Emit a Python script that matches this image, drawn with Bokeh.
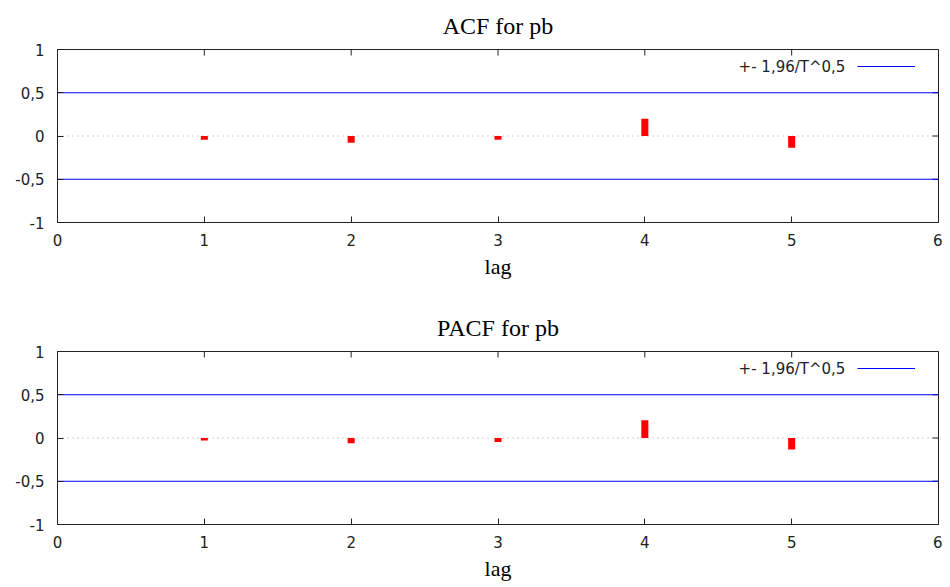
import math
from bokeh.plotting import figure
from bokeh.layouts import column
from bokeh.models import (FixedTicker, Span, Label, Legend, LegendItem, Range1d)
from bokeh.embed import file_html
from bokeh.resources import INLINE

# ---- data ----
lags = [1, 2, 3, 4, 5]
acf_values = [-0.042, -0.077, -0.042, 0.200, -0.135]
pacf_values = [-0.030, -0.062, -0.046, 0.204, -0.132]
band = 0.5
x_ticks = [0, 1, 2, 3, 4, 5, 6]
y_ticks = [-1, -0.5, 0, 0.5, 1]
y_tick_labels = ["-1", "-0,5", "0", "0,5", "1"]
legend_label = "+- 1,96/T^0,5"
titles = ["ACF for pb", "PACF for pb"]
x_label = "lag"

SANS = "DejaVu Sans"
SERIF = "Liberation Serif"
INK = "#222222"


def make_panel(title, values, top_border, bottom_border):
    p = figure(frame_width=881, frame_height=173,
               x_range=Range1d(x_ticks[0], x_ticks[-1]), y_range=Range1d(y_ticks[0], y_ticks[-1]),
               output_backend="svg", toolbar_location=None,
               min_border_left=57, min_border_right=4,
               min_border_top=top_border, min_border_bottom=bottom_border,
               title=title)
    p.title.align = "center"
    p.title.vertical_align = "middle"
    p.title.text_font = SERIF
    p.title.text_font_size = "24px"
    p.title.text_font_style = "normal"
    p.title.text_color = "black"
    p.title.standoff = 20

    p.xgrid.visible = False
    p.ygrid.visible = False
    p.outline_line_color = INK
    p.outline_line_width = 1
    p.background_fill_color = "white"
    p.border_fill_color = "white"

    # bottom axis
    xa = p.xaxis[0]
    xa.ticker = FixedTicker(ticks=x_ticks)
    xa.major_tick_in = 6
    xa.major_tick_out = 0
    xa.minor_tick_line_color = None
    xa.axis_line_color = INK
    xa.major_tick_line_color = INK
    xa.major_label_text_font = SANS
    xa.major_label_text_font_size = "15px"
    xa.major_label_text_color = INK
    xa.major_label_standoff = 11
    xa.axis_label = x_label
    xa.axis_label_text_font = SERIF
    xa.axis_label_text_font_size = "22px"
    xa.axis_label_text_font_style = "normal"
    xa.axis_label_text_color = "black"
    xa.axis_label_standoff = 5

    # left axis
    ya = p.yaxis[0]
    ya.ticker = FixedTicker(ticks=y_ticks)
    ya.major_label_overrides = dict(zip(y_ticks, y_tick_labels))
    ya.major_tick_in = 6
    ya.major_tick_out = 0
    ya.minor_tick_line_color = None
    ya.axis_line_color = INK
    ya.major_tick_line_color = INK
    ya.major_label_text_font = SANS
    ya.major_label_text_font_size = "15px"
    ya.major_label_text_color = INK
    ya.major_label_standoff = 13

    # mirrored inward ticks on top and right edges (half of each dash is clipped by the frame)
    p.scatter(x=x_ticks, y=[y_ticks[-1]] * len(x_ticks), marker="dash", angle=math.pi / 2,
              size=12, line_color=INK, line_width=1)
    p.scatter(x=[x_ticks[-1]] * len(y_ticks), y=y_ticks, marker="dash",
              size=12, line_color=INK, line_width=1)

    # zero line
    zero = Span(location=0, dimension="width", line_color="#a8a8a8",
                line_dash="1 4", line_width=1, level="underlay")
    p.add_layout(zero)

    # confidence band
    band_r = p.line(x=[x_ticks[0], x_ticks[-1]], y=[band, band], line_color="#0000ff", line_width=1)
    p.line(x=[x_ticks[0], x_ticks[-1]], y=[-band, -band], line_color="#0000ff", line_width=1)

    # bars
    p.vbar(x=lags, top=values, bottom=0, width=0.048, fill_color="#ff0000", line_color=None)

    # legend (sample line on the right, text on its left)
    legend = Legend(items=[LegendItem(label=" ", renderers=[band_r])],
                    location="top_right", margin=6, padding=6,
                    glyph_width=58, glyph_height=10, label_height=10, label_width=0,
                    label_standoff=11, label_text_font_size="1px",
                    border_line_alpha=0, background_fill_alpha=0)
    p.add_layout(legend)
    p.add_layout(Label(x=5.366, y=0.80, text=legend_label, text_align="right",
                       text_baseline="middle", text_font=SANS, text_font_size="15px",
                       text_color=INK))
    return p


p1 = make_panel(titles[0], acf_values, 49, 76)
p2 = make_panel(titles[1], pacf_values, 53, 60)

layout = column(p1, p2, spacing=0)
open("out.html", "w").write(file_html(layout, INLINE))
